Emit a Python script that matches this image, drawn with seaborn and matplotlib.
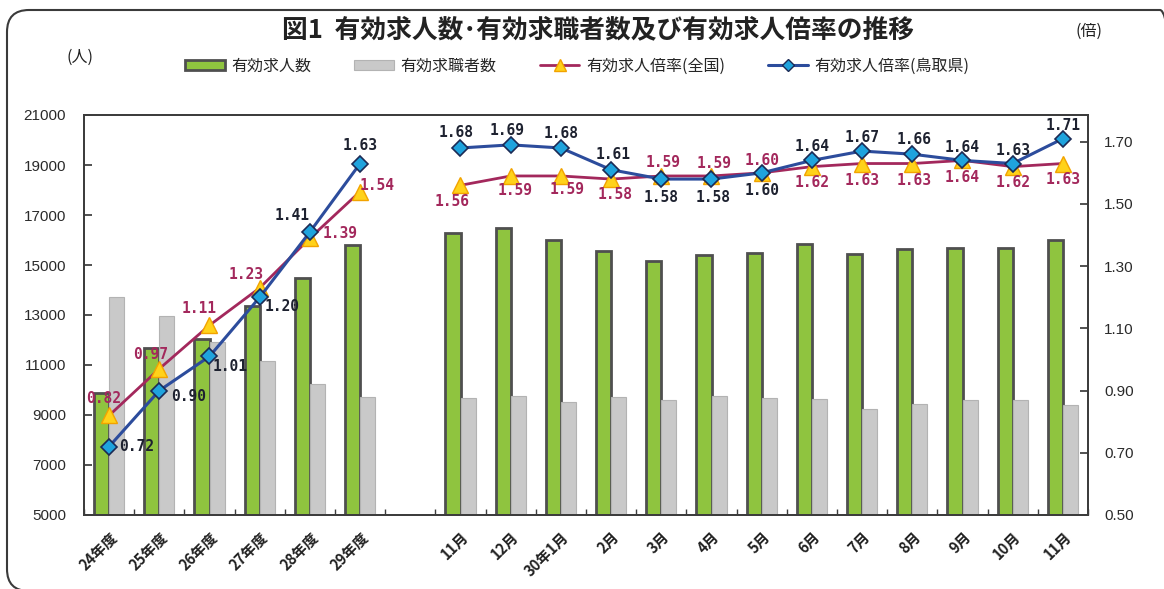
import numpy as np
import pandas as pd
import matplotlib
matplotlib.use("Agg")
import matplotlib.pyplot as plt
import seaborn as sns
from matplotlib.patches import Patch, FancyBboxPatch
from matplotlib.lines import Line2D
from matplotlib.transforms import IdentityTransform

# ---------------- data ----------------
periods = ["24年度", "25年度", "26年度", "27年度", "28年度", "29年度", "",
           "11月", "12月", "30年1月", "2月", "3月", "4月", "5月", "6月",
           "7月", "8月", "9月", "10月", "11月"]
segments = ["年度"] * 6 + ["空"] + ["月"] * 13
openings = [9880, 11690, 12030, 13370, 14500, 15790, np.nan,
            16270, 16470, 16000, 15560, 15160, 15400, 15470, 15830,
            15430, 15630, 15690, 15690, 15990]
seekers = [13720, 12950, 11930, 11170, 10240, 9730, np.nan,
           9690, 9770, 9530, 9730, 9610, 9770, 9690, 9640,
           9240, 9430, 9610, 9610, 9390]
ratio_national = [0.82, 0.97, 1.11, 1.23, 1.39, 1.54, np.nan,
                  1.56, 1.59, 1.59, 1.58, 1.59, 1.59, 1.60, 1.62,
                  1.63, 1.63, 1.64, 1.62, 1.63]
ratio_tottori = [0.72, 0.90, 1.01, 1.20, 1.41, 1.63, np.nan,
                 1.68, 1.69, 1.68, 1.61, 1.58, 1.58, 1.60, 1.64,
                 1.67, 1.66, 1.64, 1.63, 1.71]
series_bar = ["有効求人数", "有効求職者数"]
series_line = ["有効求人倍率(全国)", "有効求人倍率(鳥取県)"]

# label offsets (pixels: dx, dy up)
off_nat = [(-5, 17), (-9, 14), (-10, 17), (-14, 13), (30, 5), (17, 6), None,
           (-8, -16), (4, -15), (6, -14), (4, -15), (2, 13), (3, 12), (0, 12),
           (0, -16), (0, -17), (2, -17), (0, -17), (0, -16), (0, -16)]
off_tot = [(28, 0), (29, -6), (21, -10), (22, -9), (-18, 16), (0, 18), None,
           (-4, 15), (-4, 14), (0, 14), (2, 15), (0, -18), (2, -18), (0, -18),
           (0, 14), (0, 14), (2, 15), (0, 13), (0, 13), (0, 13)]

# ---------------- style ----------------
sns.set_theme(style="white")
plt.rcParams["font.family"] = ["Noto Sans CJK JP", "DejaVu Sans"]

GREEN = "#8fc43f"
GREEN_EDGE = "#4f4f4f"
GRAY = "#c9c9c9"
CRIMSON = "#a3285c"
BLUE = "#2c4c9c"
NAVY_TXT = "#1e2230"

W, H = 1164, 589
fig = plt.figure(figsize=(W / 100, H / 100), dpi=100)
ax = fig.add_axes([84 / W, 1 - 515 / H, (1088 - 84) / W, (515 - 115) / H])

n = len(periods)
pos = list(range(n))

bars = pd.DataFrame({
    "pos": pos * 2,
    "series": [series_bar[0]] * n + [series_bar[1]] * n,
    "value": openings + seekers,
})
sns.barplot(data=bars, x="pos", y="value", hue="series", order=pos,
            hue_order=series_bar, palette=[GREEN, GRAY], width=0.6,
            dodge=True, gap=0, saturation=1, errorbar=None, legend=False, ax=ax)
for p in ax.containers[0]:
    p.set_edgecolor(GREEN_EDGE)
    p.set_linewidth(2.0)
for p in ax.containers[1]:
    p.set_edgecolor("#b3b3b3")
    p.set_linewidth(0.8)

ax.set_ylim(5000, 21000)
ax.set_yticks(range(5000, 21001, 2000))
ax.set_xlim(-0.5, n - 0.5)
ax.set_xlabel("")
ax.set_ylabel("")

ax2 = ax.twinx()
lines = pd.DataFrame({
    "pos": pos * 2,
    "seg": segments * 2,
    "series": [series_line[0]] * n + [series_line[1]] * n,
    "value": ratio_national + ratio_tottori,
})
sns.lineplot(data=lines[lines.series == series_line[0]], x="pos", y="value",
             units="seg", estimator=None, sort=False, color=CRIMSON, lw=2,
             marker="^", markersize=11, markerfacecolor="#ffd21a",
             markeredgecolor="#f2a300", markeredgewidth=1, legend=False, ax=ax2)
sns.lineplot(data=lines[lines.series == series_line[1]], x="pos", y="value",
             units="seg", estimator=None, sort=False, color=BLUE, lw=2.2,
             marker="D", markersize=8, markerfacecolor="#1fa3dd",
             markeredgecolor="#1b2a55", markeredgewidth=1.2, legend=False, ax=ax2)
ax2.set_ylim(0.5, 1.786)
ax2.set_yticks(np.arange(0.5, 1.71, 0.2))
ax2.set_yticklabels([f"{v:.2f}" for v in np.arange(0.5, 1.71, 0.2)])
ax2.set_xlim(-0.5, n - 0.5)
ax2.set_xlabel("")
ax2.set_ylabel("")

# data labels
for i, (v, o) in enumerate(zip(ratio_national, off_nat)):
    if o is None or np.isnan(v):
        continue
    ax2.annotate(f"{v:.2f}", (i, v), xytext=(o[0] * 0.72, o[1] * 0.72),
                 textcoords="offset points", ha="center", va="center",
                 color=CRIMSON, fontsize=10.5, fontweight="bold",
                 family="DejaVu Sans Mono")
for i, (v, o) in enumerate(zip(ratio_tottori, off_tot)):
    if o is None or np.isnan(v):
        continue
    ax2.annotate(f"{v:.2f}", (i, v), xytext=(o[0] * 0.72, o[1] * 0.72),
                 textcoords="offset points", ha="center", va="center",
                 color=NAVY_TXT, fontsize=10.5, fontweight="bold",
                 family="DejaVu Sans Mono")

# axes decoration
for a in (ax, ax2):
    for s in a.spines.values():
        s.set_color("#3c3c3c")
        s.set_linewidth(1.3)
ax.tick_params(axis="y", direction="in", length=6, color="#3c3c3c", pad=13,
               labelsize=11, left=True)
ax2.tick_params(axis="y", direction="in", length=6, color="#3c3c3c", pad=11.5,
                labelsize=11, right=True)
for lab in ax.get_yticklabels() + ax2.get_yticklabels():
    lab.set_family("Liberation Sans")
    lab.set_color("#2a2a2a")

ax.set_xticks(pos)
ax.set_xticks([i + 0.5 for i in range(-1, n)], minor=True)
ax.set_xticklabels(periods, rotation=45, ha="right", rotation_mode="anchor",
                   fontsize=10.5, fontweight="bold", color="#222222")
ax.tick_params(axis="x", which="major", length=0, pad=10, bottom=True)
ax.tick_params(axis="x", which="minor", direction="in", length=4,
               color="#3c3c3c", bottom=True)
ax2.tick_params(axis="x", which="both", length=0)

# title & unit labels
fig.text(598 / W, 1 - 30 / H, "図1  有効求人数･有効求職者数及び有効求人倍率の推移",
         ha="center", va="center", fontsize=18.5, fontweight="bold", color="#222222")
fig.text(1089 / W, 1 - 31 / H, "(倍)", ha="center", va="center", fontsize=11.5,
         color="#222222")
fig.text(80 / W, 1 - 57 / H, "(人)", ha="center", va="center", fontsize=11.5,
         color="#222222")

# legend
handles = [
    Patch(facecolor=GREEN, edgecolor=GREEN_EDGE, linewidth=2.0),
    Patch(facecolor=GRAY, edgecolor="#b3b3b3", linewidth=0.8),
    Line2D([], [], color=CRIMSON, lw=2, marker="^", markersize=9,
           markerfacecolor="#ffd21a", markeredgecolor="#f2a300"),
    Line2D([], [], color=BLUE, lw=2.2, marker="D", markersize=6,
           markerfacecolor="#1fa3dd", markeredgecolor="#1b2a55"),
]
fig.legend(handles, series_bar + series_line, loc="center",
           bbox_to_anchor=(577 / W, 1 - 66 / H), ncol=4, frameon=False,
           fontsize=11.5, handlelength=2.5, handleheight=0.55,
           columnspacing=2.7, handletextpad=0.4)

# scanned-page rounded frame (runs off the right and bottom edges)
frame = FancyBboxPatch((7, -2), 1175, 581,
                       boxstyle="round,pad=0,rounding_size=22",
                       transform=IdentityTransform(), fill=False,
                       ec="#3a3a3a", lw=1.5)
fig.add_artist(frame)

fig.savefig("out.png", dpi=100)
